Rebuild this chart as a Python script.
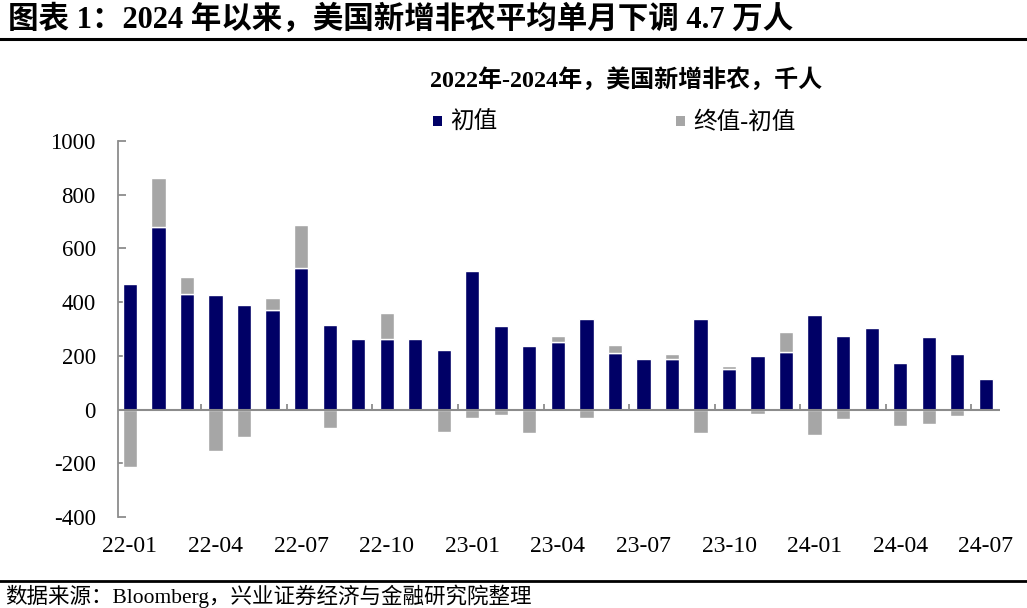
import numpy as np
from   matplotlib import pyplot as plt
from   matplotlib.lines import Line2D
from   matplotlib.patches import Patch

# data, thousands of persons
months = ['22-01', '22-02', '22-03', '22-04', '22-05', '22-06', '22-07', '22-08',
          '22-09', '22-10', '22-11', '22-12', '23-01', '23-02', '23-03', '23-04',
          '23-05', '23-06', '23-07', '23-08', '23-09', '23-10', '23-11', '23-12',
          '24-01', '24-02', '24-03', '24-04', '24-05', '24-06', '24-07']
initial = [467, 678, 431, 428, 390, 372, 528, 315, 263, 261, 263, 223, 517, 311,
           236, 253, 339, 209, 187, 187, 336, 150, 199, 216, 353, 275, 303, 175,
           272, 206, 114]
revision = [-213, 184, 63, -154, -103, 45, 160, -69, 0, 100, 0, -84, -32, -21,
            -88, 22, -32, 30, 0, 19, -87, 12, -15, 74, -94, -36, 0, -63, -52,
            -23, 0]
ylabels = [-400, -200, 0, 200, 400, 600, 800, 1000]

NAVY = '#000066'
GRAY = '#a6a6a6'
AXIS = '#8c8c8c'


def main():
    plt.rcParams['font.family'] = ['Liberation Serif', 'Noto Sans CJK SC']
    plt.rcParams['axes.unicode_minus'] = False

    fig = plt.figure(figsize=(10.27, 6.08), dpi=100)
    ax = fig.add_axes([118 / 1027, 1 - 517 / 608, 882 / 1027, 376 / 608])

    x = np.arange(len(months))
    init = np.array(initial)
    rev = np.array(revision)

    ax.bar(x, init, width=0.5, color=NAVY, edgecolor='white', linewidth=1.0,
           zorder=2)
    bottom = np.where(rev > 0, init, 0)
    ax.bar(x, rev, bottom=bottom, width=0.5, color=GRAY, edgecolor='white',
           linewidth=1.0, zorder=2)

    ax.set_xlim(-0.42, 30.5)
    ax.set_ylim(-400, 1000)
    ax.set_yticks(ylabels)
    ax.tick_params(axis='y', direction='in', length=6, width=1.3, color=AXIS,
                   labelsize=16.5, pad=16)

    ax.set_xticks(x[::3])
    ax.set_xticklabels(months[::3])
    ax.tick_params(axis='x', length=0, labelsize=17, pad=14)

    for side in ['top', 'right', 'bottom']:
        ax.spines[side].set_visible(False)
    ax.spines['left'].set_color(AXIS)
    ax.spines['left'].set_linewidth(1.3)

    # zero line with short category ticks every 3 months
    ax.axhline(0, color=AXIS, lw=1.5, zorder=3)
    ax.vlines(x[3::3] - 0.5, 0, 22, color=AXIS, lw=1.3, zorder=3)

    handles = [Patch(facecolor=NAVY), Patch(facecolor=GRAY)]
    fig.legend(handles, ['初值', '终值-初值'], ncol=2, frameon=False,
               loc='center left', bbox_to_anchor=(412 / 1027, 1 - 123 / 608),
               fontsize=17, handlelength=0.35, handleheight=0.3,
               handletextpad=0.35, columnspacing=7.6)

    fig.text(626 / 1027, 1 - 80 / 608, '2022年-2024年，美国新增非农，千人',
             ha='center', va='center', fontsize=17.3, fontweight='bold')

    fig.text(8 / 1027, 1 - 20 / 608,
             '图表 1：2024 年以来，美国新增非农平均单月下调 4.7 万人',
             ha='left', va='center', fontsize=22, fontweight='bold')
    fig.add_artist(Line2D([0, 1], [1 - 39 / 608] * 2, color='black', lw=2.2))

    fig.add_artist(Line2D([0, 1], [1 - 581 / 608] * 2, color='black', lw=2.0))
    fig.text(5 / 1027, 0.5 / 608,
             '数据来源：Bloomberg，兴业证券经济与金融研究院整理',
             ha='left', va='bottom', fontsize=15.5)

    fig.savefig('out.png', dpi=100)


if __name__ == '__main__':
    main()
